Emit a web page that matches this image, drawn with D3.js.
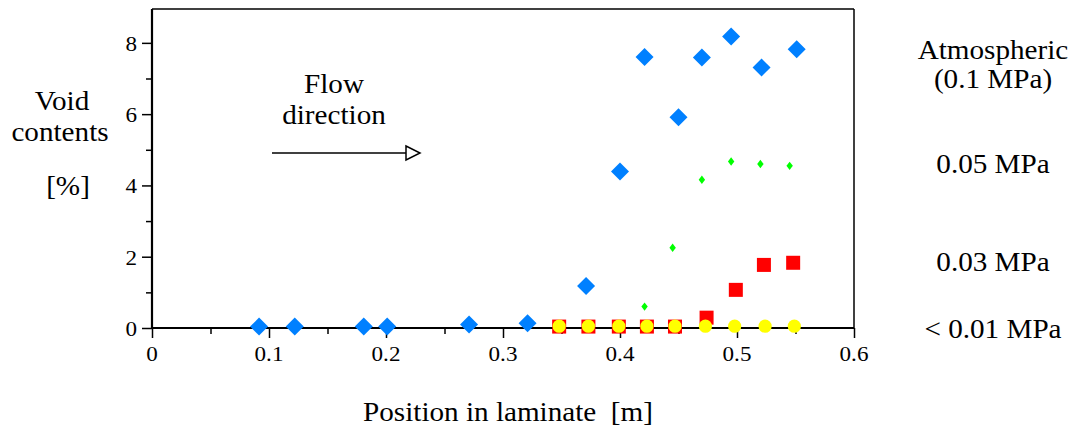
<!DOCTYPE html>
<html>
<head>
<meta charset="utf-8">
<script src="https://cdn.jsdelivr.net/npm/d3@7"></script>
<style>
  body { margin: 0; padding: 0; background: white; }
</style>
</head>
<body>
<div id="myVis"></div>
<script>
const width = 1074;
const height = 427;
const serif = "'Liberation Serif', 'Times New Roman', Times, serif";

// Atmospheric (0.1 MPa) - blue diamonds
const atmX = [0.0915, 0.122, 0.181, 0.201, 0.271, 0.321, 0.371, 0.4, 0.421, 0.45, 0.47, 0.495, 0.521, 0.551];
const atmY = [0.04, 0.04, 0.04, 0.04, 0.1, 0.13, 1.18, 4.39, 7.6, 5.91, 7.59, 8.18, 7.31, 7.82];
// 0.05 MPa - small green diamonds
const p05X = [0.421, 0.445, 0.47, 0.495, 0.52, 0.545];
const p05Y = [0.6, 2.25, 4.16, 4.67, 4.6, 4.55];
// 0.03 MPa - red squares
const p03X = [0.348, 0.373, 0.399, 0.423, 0.447, 0.474, 0.499, 0.523, 0.548];
const p03Y = [0.04, 0.04, 0.04, 0.04, 0.04, 0.29, 1.07, 1.77, 1.83];
// < 0.01 MPa - yellow circles
const p01X = [0.348, 0.373, 0.399, 0.423, 0.447, 0.473, 0.498, 0.524, 0.549];
const p01Y = [0.05, 0.05, 0.05, 0.05, 0.05, 0.05, 0.05, 0.05, 0.05];

const xTicks = [0, 0.1, 0.2, 0.3, 0.4, 0.5, 0.6];
const yTicks = [0, 2, 4, 6, 8];
const seriesLabels = [["Atmospheric", "(0.1 MPa)"], ["0.05 MPa"], ["0.03 MPa"], ["< 0.01 MPa"]];

const svg = d3
  .select("#myVis")
  .append("svg")
  .attr("width", width)
  .attr("height", height)
  .style("font-family", serif);

const x = d3.scaleLinear().domain([0, 0.6]).range([152, 854]);
const y = d3.scaleLinear().domain([0, 8.95]).range([328, 9]);

// text helper; the original print is a bit stretched sideways
function label(tx, ty, t, size, anchor, sx) {
  return svg.append("text")
    .attr("transform", "translate(" + tx + "," + ty + ") scale(" + (sx || 1.08) + ",1)")
    .attr("text-anchor", anchor || "middle")
    .style("font-family", serif)
    .style("font-size", (size || 27) + "px")
    .style("white-space", "pre")
    .text(t);
}

// frame top / right
svg.append("line")
  .attr("x1", x(0)).attr("x2", x(0.6))
  .attr("y1", y(8.95)).attr("y2", y(8.95))
  .attr("stroke", "black").attr("stroke-width", 1.5);
svg.append("line")
  .attr("x1", x(0.6)).attr("x2", x(0.6))
  .attr("y1", y(8.95)).attr("y2", y(0))
  .attr("stroke", "black").attr("stroke-width", 1.5);

// x axis
const xAxis = svg.append("g")
  .attr("transform", "translate(0," + y(0) + ")")
  .call(d3.axisBottom(x).tickValues(d3.range(0, 0.61, 0.05)).tickSize(6).tickFormat(""));
xAxis.selectAll(".tick line")
  .attr("y2", (d, i) => (i % 2 === 0 ? 10 : 6))
  .attr("stroke-width", 1.5);
xAxis.select(".domain").attr("stroke-width", 2.2).attr("d", "M" + x(0) + ",0H" + x(0.6));

xTicks.forEach((d) => label(x(d), 361, d3.format("")(d), 22, "middle", 1.05));

// y axis
const yAxis = svg.append("g")
  .attr("transform", "translate(" + x(0) + ",0)")
  .call(d3.axisLeft(y).tickValues(d3.range(0, 9, 1)).tickFormat(""));
yAxis.selectAll(".tick line")
  .attr("x2", (d) => (d % 2 === 0 ? -10 : -6))
  .attr("stroke-width", 1.5);
yAxis.select(".domain").attr("stroke-width", 2.2).attr("d", "M0," + y(8.95) + "V" + y(0));

yTicks.forEach((d) => label(137, y(d) + 8, String(d), 22, "end", 1.05));

// markers
const diamond = (w, h) => "M0," + -h + "L" + w + ",0L0," + h + "L" + -w + ",0Z";

svg.selectAll(".atm")
  .data(atmX)
  .enter()
  .append("path")
  .attr("class", "atm")
  .attr("d", diamond(9, 9))
  .attr("transform", (d, i) => "translate(" + x(d) + "," + y(atmY[i]) + ")")
  .attr("fill", "#0080ff");

svg.selectAll(".p05")
  .data(p05X)
  .enter()
  .append("path")
  .attr("class", "p05")
  .attr("d", diamond(3.2, 4.2))
  .attr("transform", (d, i) => "translate(" + x(d) + "," + y(p05Y[i]) + ")")
  .attr("fill", "#00ff00");

svg.selectAll(".p03")
  .data(p03X)
  .enter()
  .append("rect")
  .attr("class", "p03")
  .attr("x", (d) => x(d) - 7)
  .attr("y", (d, i) => y(p03Y[i]) - 7)
  .attr("width", 14)
  .attr("height", 14)
  .attr("fill", "#ff0000");

svg.selectAll(".p01")
  .data(p01X)
  .enter()
  .append("circle")
  .attr("class", "p01")
  .attr("cx", (d) => x(d))
  .attr("cy", (d, i) => y(p01Y[i]))
  .attr("r", 6.6)
  .attr("fill", "#ffff00");

label(62, 110, "Void");
label(60, 141, "contents");
label(68, 195, "[%]");

label(334, 93, "Flow");
label(334, 124, "direction");

// flow arrow
svg.append("line")
  .attr("x1", 272).attr("x2", 406)
  .attr("y1", 153).attr("y2", 153)
  .attr("stroke", "black").attr("stroke-width", 1.5);
svg.append("path")
  .attr("d", "M406,146L420,153L406,160Z")
  .attr("fill", "white")
  .attr("stroke", "black")
  .attr("stroke-width", 1.5);

// series names at right
const rightY = [[59, 88], [173], [271], [338]];
seriesLabels.forEach((lines, i) => {
  lines.forEach((t, j) => label(993, rightY[i][j], t));
});

label(508, 421, "Position in laminate  [m]");
</script>
</body>
</html>
